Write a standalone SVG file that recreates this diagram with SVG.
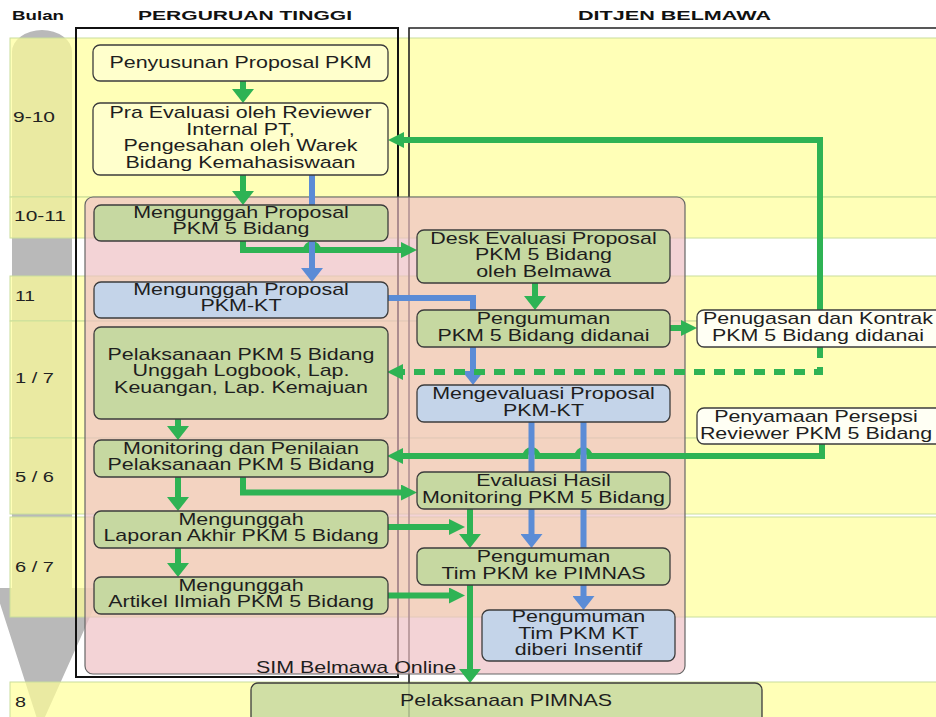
<svg xmlns="http://www.w3.org/2000/svg" width="936" height="717" viewBox="0 0 936 717">
<defs>
<style>
.t{font-family:"Liberation Sans",Arial,sans-serif;font-size:16px;fill:#1e1e1e;text-anchor:middle}
.ts{font-family:"Liberation Sans",Arial,sans-serif;font-size:16px;fill:#1e1e1e}
.h{font-family:"Liberation Sans",Arial,sans-serif;font-size:13.5px;font-weight:bold;fill:#111}
.lbl{font-family:"Liberation Sans",Arial,sans-serif;font-size:14px;fill:#222}
.row{fill:#ffff99;fill-opacity:.7;stroke:#c9de9c;stroke-width:1}
.ny{fill:#ffffcc;stroke:#3c3c3c;stroke-width:1.3}
.ng{fill:#c6d8a1;stroke:#3c3c3c;stroke-width:1.3}
.nb{fill:#c4d4e9;stroke:#3c3c3c;stroke-width:1.3}
.nw{fill:#fffff4;stroke:#3c3c3c;stroke-width:1.3}
.cg{fill:none;stroke:#2eb354;stroke-width:6}
.cb{fill:none;stroke:#5b8cd6;stroke-width:6}
</style>
<marker id="gv" viewBox="0 0 14 22" refX="3" refY="11" markerWidth="14" markerHeight="22" markerUnits="userSpaceOnUse" orient="auto"><path d="M0,0 L14,11 L0,22 z" fill="#2eb354"/></marker>
<marker id="gh" viewBox="0 0 16 16" refX="3" refY="8" markerWidth="16" markerHeight="16" markerUnits="userSpaceOnUse" orient="auto"><path d="M0,0 L16,8 L0,16 z" fill="#2eb354"/></marker>
<marker id="bv" viewBox="0 0 14 22" refX="3" refY="11" markerWidth="14" markerHeight="22" markerUnits="userSpaceOnUse" orient="auto"><path d="M0,0 L14,11 L0,22 z" fill="#5b8cd6"/></marker>
</defs>
<rect width="936" height="717" fill="#ffffff"/>

<g id="timeline-arrow">
<path d="M12,588 V52 A30,22 0 0 1 72,52 V588 H103 L40,728 L-5,588 Z" fill="#b9b9b9"/>
</g>

<g id="rows">
<rect class="row" x="10" y="38" width="930" height="159"/>
<rect class="row" x="10" y="197" width="930" height="41"/>
<rect class="row" x="10" y="276" width="930" height="45"/>
<rect class="row" x="10" y="321" width="930" height="117"/>
<rect class="row" x="10" y="438" width="930" height="76"/>
<rect class="row" x="10" y="517" width="930" height="100"/>
<rect class="row" x="10" y="682" width="930" height="40"/>
</g>

<g id="headers">
<text class="h" x="12" y="20" textLength="52" lengthAdjust="spacingAndGlyphs">Bulan</text>
<text class="h" x="138" y="20" textLength="214" lengthAdjust="spacingAndGlyphs">PERGURUAN TINGGI</text>
<text class="h" x="578" y="20" textLength="193" lengthAdjust="spacingAndGlyphs">DITJEN BELMAWA</text>
</g>

<g id="row-labels">
<text class="lbl" x="13" y="122" textLength="42" lengthAdjust="spacingAndGlyphs">9-10</text>
<text class="lbl" x="14" y="221" textLength="52" lengthAdjust="spacingAndGlyphs">10-11</text>
<text class="lbl" x="15" y="301" textLength="20" lengthAdjust="spacingAndGlyphs">11</text>
<text class="lbl" x="15" y="383" textLength="39" lengthAdjust="spacingAndGlyphs">1 / 7</text>
<text class="lbl" x="15" y="482" textLength="39" lengthAdjust="spacingAndGlyphs">5 / 6</text>
<text class="lbl" x="15" y="572" textLength="39" lengthAdjust="spacingAndGlyphs">6 / 7</text>
<text class="lbl" x="15" y="707" textLength="11" lengthAdjust="spacingAndGlyphs">8</text>
</g>

<g id="lanes">
<rect x="76" y="28" width="322" height="649" fill="none" stroke="#111" stroke-width="2"/>
<path d="M409,717 V28 H936" fill="none" stroke="#222" stroke-width="1.6"/>
</g>

<g id="sim-belmawa-online">
<rect x="85" y="197" width="600" height="477" rx="8" fill="#eec0c4" fill-opacity="0.7" stroke="#666" stroke-width="1.2"/>
<text class="ts" transform="translate(256,0) scale(1.34,1)" x="0" y="673">SIM Belmawa Online</text>
</g>

<g id="connectors">
<path class="cg" d="M243,81 V92" marker-end="url(#gv)"/>
<path class="cg" d="M243,175 V194" marker-end="url(#gv)"/>
<path class="cg" d="M243,241 V250 H306 A6,6 0 0 1 318,250 H404" marker-end="url(#gh)"/>
<path class="cb" d="M312,175 V271" marker-end="url(#bv)"/>
<path class="cb" d="M384,298 H473 V374" marker-end="url(#bv)"/>
<path class="cg" d="M535,283 V299" marker-end="url(#gv)"/>
<path class="cg" d="M670,328 H684" marker-end="url(#gh)"/>
<path class="cg" d="M820,310 V140 H401" marker-end="url(#gh)"/>
<path class="cg" d="M820,347 V372 H400" stroke-dasharray="11 9" marker-end="url(#gh)"/>
<path class="cg" d="M178,419 V429" marker-end="url(#gv)"/>
<path class="cg" d="M822,444 V456 H589.5 A6,6 0 0 0 577.5,456 H537.5 A6,6 0 0 0 525.5,456 H400" marker-end="url(#gh)"/>
<path class="cb" d="M531.5,422 V537" marker-end="url(#bv)"/>
<path class="cb" d="M583.5,422 V599" marker-end="url(#bv)"/>
<path class="cg" d="M178,477 V500" marker-end="url(#gv)"/>
<path class="cg" d="M243,477 V492.5 H404" marker-end="url(#gh)"/>
<path class="cg" d="M470,509 V537" marker-end="url(#gv)"/>
<path class="cg" d="M388,527 H452" marker-end="url(#gh)"/>
<path class="cg" d="M178,548 V566" marker-end="url(#gv)"/>
<path class="cg" d="M388,595.5 H452" marker-end="url(#gh)"/>
<path class="cg" d="M470,585 V672" marker-end="url(#gv)"/>
</g>

<g id="penyusunan-proposal">
<rect class="ny" x="93" y="45" width="295" height="36" rx="7"/>
<text class="t" transform="translate(240.5,0) scale(1.34,1)"><tspan x="0" y="68">Penyusunan Proposal PKM</tspan></text>
</g>
<g id="pra-evaluasi">
<rect class="ny" x="93" y="103" width="295" height="72" rx="7"/>
<text class="t" transform="translate(240.5,0) scale(1.34,1)"><tspan x="0" y="118.5">Pra Evaluasi oleh Reviewer</tspan><tspan x="0" y="135">Internal PT,</tspan><tspan x="0" y="151.5">Pengesahan oleh Warek</tspan><tspan x="0" y="168">Bidang Kemahasiswaan</tspan></text>
</g>
<g id="unggah-pkm5">
<rect class="ng" x="94" y="205" width="294" height="36" rx="7"/>
<text class="t" transform="translate(241,0) scale(1.34,1)"><tspan x="0" y="218">Mengunggah Proposal</tspan><tspan x="0" y="234.5">PKM 5 Bidang</tspan></text>
</g>
<g id="unggah-pkmkt">
<rect class="nb" x="94" y="282" width="294" height="36" rx="7"/>
<text class="t" transform="translate(241,0) scale(1.34,1)"><tspan x="0" y="295">Mengunggah Proposal</tspan><tspan x="0" y="311.5">PKM-KT</tspan></text>
</g>
<g id="pelaksanaan-pkm5">
<rect class="ng" x="94" y="327" width="294" height="92" rx="7"/>
<text class="t" transform="translate(241,0) scale(1.34,1)"><tspan x="0" y="360">Pelaksanaan PKM 5 Bidang</tspan><tspan x="0" y="376.5">Unggah Logbook, Lap.</tspan><tspan x="0" y="393">Keuangan, Lap. Kemajuan</tspan></text>
</g>
<g id="monitoring">
<rect class="ng" x="94" y="440" width="294" height="37" rx="7"/>
<text class="t" transform="translate(241,0) scale(1.34,1)"><tspan x="0" y="454">Monitoring dan Penilaian</tspan><tspan x="0" y="470.5">Pelaksanaan PKM 5 Bidang</tspan></text>
</g>
<g id="unggah-laporan">
<rect class="ng" x="94" y="511" width="294" height="37" rx="7"/>
<text class="t" transform="translate(241,0) scale(1.34,1)"><tspan x="0" y="525">Mengunggah</tspan><tspan x="0" y="541.5">Laporan Akhir PKM 5 Bidang</tspan></text>
</g>
<g id="unggah-artikel">
<rect class="ng" x="94" y="577" width="294" height="37" rx="7"/>
<text class="t" transform="translate(241,0) scale(1.34,1)"><tspan x="0" y="591">Mengunggah</tspan><tspan x="0" y="607.5">Artikel Ilmiah PKM 5 Bidang</tspan></text>
</g>
<g id="desk-evaluasi">
<rect class="ng" x="417" y="230" width="253" height="53" rx="7"/>
<text class="t" transform="translate(543.5,0) scale(1.34,1)"><tspan x="0" y="244">Desk Evaluasi Proposal</tspan><tspan x="0" y="260.5">PKM 5 Bidang</tspan><tspan x="0" y="277">oleh Belmawa</tspan></text>
</g>
<g id="pengumuman-didanai">
<rect class="ng" x="417" y="310" width="253" height="37" rx="7"/>
<text class="t" transform="translate(543.5,0) scale(1.34,1)"><tspan x="0" y="324.5">Pengumuman</tspan><tspan x="0" y="341">PKM 5 Bidang didanai</tspan></text>
</g>
<g id="mengevaluasi-pkmkt">
<rect class="nb" x="417" y="385" width="253" height="37" rx="7"/>
<text class="t" transform="translate(543.5,0) scale(1.34,1)"><tspan x="0" y="399.5">Mengevaluasi Proposal</tspan><tspan x="0" y="416">PKM-KT</tspan></text>
</g>
<g id="evaluasi-hasil">
<rect class="ng" x="417" y="472" width="253" height="37" rx="7"/>
<text class="t" transform="translate(543.5,0) scale(1.34,1)"><tspan x="0" y="486.5">Evaluasi Hasil</tspan><tspan x="0" y="503">Monitoring PKM 5 Bidang</tspan></text>
</g>
<g id="pengumuman-pimnas">
<rect class="ng" x="417" y="548" width="253" height="37" rx="7"/>
<text class="t" transform="translate(543.5,0) scale(1.34,1)"><tspan x="0" y="562.5">Pengumuman</tspan><tspan x="0" y="579">Tim PKM ke PIMNAS</tspan></text>
</g>
<g id="pengumuman-insentif">
<rect class="nb" x="482" y="610" width="193" height="51" rx="7"/>
<text class="t" transform="translate(578.5,0) scale(1.34,1)"><tspan x="0" y="622.5">Pengumuman</tspan><tspan x="0" y="639">Tim PKM KT</tspan><tspan x="0" y="655.5">diberi Insentif</tspan></text>
</g>
<g id="penugasan-kontrak">
<rect class="nw" x="697" y="310" width="250" height="37" rx="7"/>
<text class="t" transform="translate(818,0) scale(1.34,1)"><tspan x="0" y="324.5">Penugasan dan Kontrak</tspan><tspan x="0" y="341">PKM 5 Bidang didanai</tspan></text>
</g>
<g id="penyamaan-persepsi">
<rect class="nw" x="697" y="408" width="250" height="36" rx="7"/>
<text class="t" transform="translate(816,0) scale(1.34,1)"><tspan x="0" y="422.5">Penyamaan Persepsi</tspan><tspan x="0" y="439">Reviewer PKM 5 Bidang</tspan></text>
</g>
<g id="pelaksanaan-pimnas">
<rect class="ng" x="251" y="683" width="511" height="42" rx="7" fill-opacity="0.82"/>
<text class="t" transform="translate(506,0) scale(1.34,1)"><tspan x="0" y="706">Pelaksanaan PIMNAS</tspan></text>
</g>
</svg>
